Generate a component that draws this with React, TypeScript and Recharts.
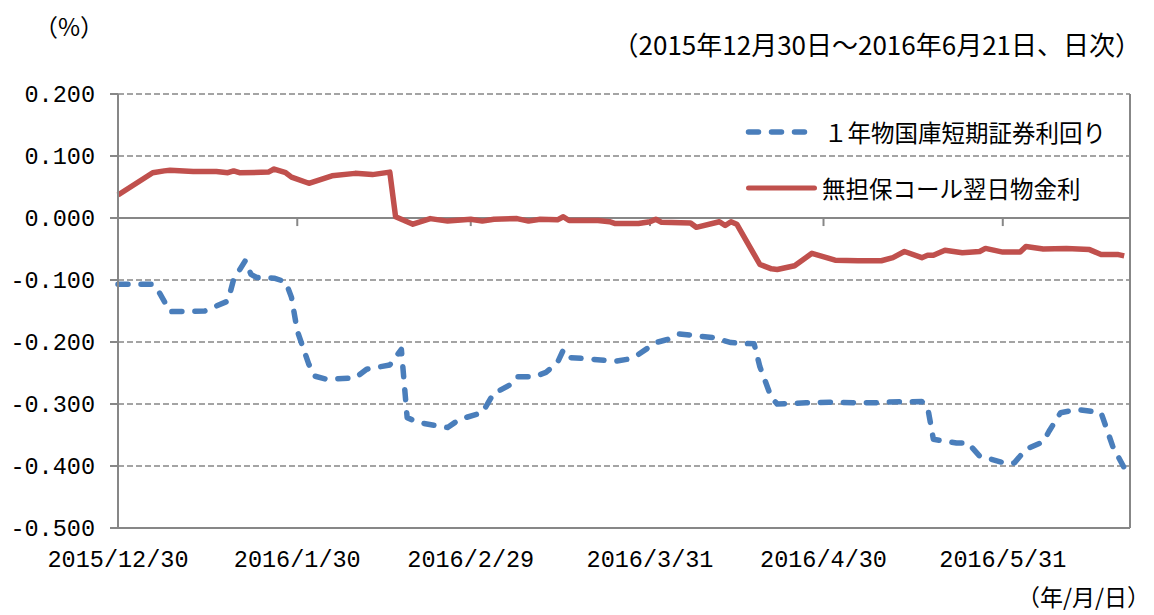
import React from 'react';
import {
  LineChart,
  Line,
  XAxis,
  YAxis,
  CartesianGrid,
  ReferenceLine,
  Legend,
} from 'recharts';

// days counted from 2015/12/30
const tickDays = [0, 31, 61, 92, 122, 153];
const tickLabels = ['2015/12/30', '2016/1/30', '2016/2/29', '2016/3/31', '2016/4/30', '2016/5/31'];
const yTicks = [0.2, 0.1, 0, -0.1, -0.2, -0.3, -0.4, -0.5];
const xMax = 175;

const billName = '１年物国庫短期証券利回り';
const callName = '無担保コール翌日物金利';

const billDays = [
  0, 6, 7, 9, 15, 19, 20, 22, 23, 24, 27, 29, 30, 31, 33, 34, 36, 41, 43, 47, 49, 50, 52, 57, 59,
  63, 65, 66, 68, 69, 72, 74, 76, 77, 78, 81, 86, 88, 90, 93, 95, 97, 99, 103, 106, 110, 111, 113,
  114, 119, 123, 128, 131, 132, 139, 140, 141, 145, 147, 149, 151, 154, 155, 157, 160, 161, 163,
  166, 170, 172, 174,
];
const billYield = [
  -0.107, -0.107, -0.118, -0.151, -0.15, -0.134, -0.099, -0.069, -0.091, -0.096, -0.097, -0.103,
  -0.128, -0.182, -0.236, -0.255, -0.26, -0.258, -0.244, -0.237, -0.212, -0.322, -0.33, -0.338,
  -0.325, -0.314, -0.282, -0.278, -0.268, -0.256, -0.256, -0.249, -0.233, -0.213, -0.225, -0.227,
  -0.231, -0.228, -0.22, -0.201, -0.196, -0.187, -0.189, -0.193, -0.201, -0.203, -0.24, -0.29, -0.3,
  -0.298, -0.297, -0.298, -0.298, -0.297, -0.296, -0.305, -0.357, -0.363, -0.363, -0.384, -0.389,
  -0.397, -0.395, -0.373, -0.361, -0.344, -0.314, -0.309, -0.314, -0.368, -0.403,
];

const callDays = [
  0, 6, 8, 9, 13, 17, 19, 20, 21, 26, 27, 29, 30, 33, 35, 37, 41, 44, 47, 48, 51, 54, 57, 61, 63,
  65, 69, 71, 73, 76, 77, 78, 83, 85, 86, 90, 92, 93, 94, 99, 100, 104, 105, 106, 107, 111, 113,
  114, 117, 120, 124, 128, 132, 134, 136, 139, 140, 141, 143, 146, 149, 150, 153, 156, 157, 160,
  164, 168, 170, 173, 174,
];
const callRate = [
  0.037, 0.073, 0.076, 0.077, 0.075, 0.075, 0.073, 0.076, 0.073, 0.074, 0.079, 0.073, 0.066, 0.056,
  0.062, 0.068, 0.072, 0.07, 0.074, 0.002, -0.01, -0.001, -0.005, -0.002, -0.005, -0.002, -0.001,
  -0.005, -0.002, -0.003, 0.002, -0.004, -0.004, -0.006, -0.009, -0.009, -0.006, -0.002, -0.007,
  -0.008, -0.015, -0.006, -0.012, -0.006, -0.01, -0.075, -0.082, -0.083, -0.077, -0.057, -0.068,
  -0.069, -0.069, -0.064, -0.054, -0.064, -0.06, -0.06, -0.052, -0.056, -0.054, -0.049, -0.055,
  -0.055, -0.046, -0.05, -0.049, -0.051, -0.059, -0.059, -0.061,
];

const billData = billDays.map((d, i) => ({ day: d, bill: billYield[i] }));
const callData = callDays.map((d, i) => ({ day: d, call: callRate[i] }));

const BLUE = '#4A7EBB';
const RED = '#C0504D';
const GRAY = '#878787';
const jp = '"Noto Sans CJK JP", sans-serif';
const mono = '"Liberation Mono", "DejaVu Sans Mono", monospace';

const LegendBox = () => (
  <div style={{ position: 'relative', width: 400, height: 100, fontFamily: jp, fontSize: 23.5, color: '#000' }}>
    <div style={{ position: 'absolute', left: 0, top: 0, height: 40, display: 'flex', alignItems: 'center' }}>
      <svg width={84} height={40}>
        <line x1={8.5} y1={20} x2={64.5} y2={20} stroke={BLUE} strokeWidth={5.5}
          strokeDasharray="10 13" strokeLinecap="round" />
      </svg>
      <span style={{ whiteSpace: 'nowrap' }}>{billName}</span>
    </div>
    <div style={{ position: 'absolute', left: 0, top: 56, height: 40, display: 'flex', alignItems: 'center' }}>
      <svg width={82} height={40}>
        <line x1={8.5} y1={20} x2={74.5} y2={20} stroke={RED} strokeWidth={5} strokeLinecap="round" />
      </svg>
      <span style={{ whiteSpace: 'nowrap' }}>{callName}</span>
    </div>
  </div>
);

export default function App() {
  return (
    <div style={{ width: 1154, height: 615, background: '#fff' }}>
      <style>{`body{margin:0}`}</style>
      <LineChart
        width={1154}
        height={615}
        margin={{ top: 94, right: 24, bottom: 57, left: 0 }}
      >
        <CartesianGrid vertical={false} stroke={GRAY} strokeDasharray="6 3" strokeWidth={1.5} />
        <XAxis
          type="number"
          dataKey="day"
          domain={[0, xMax]}
          ticks={tickDays}
          height={30}
          allowDuplicatedCategory={false}
          tickFormatter={(v: number) => tickLabels[tickDays.indexOf(v)] ?? ''}
          axisLine={{ stroke: GRAY, strokeWidth: 2 }}
          tickLine={false}
          tickSize={0}
          tickMargin={22}
          tick={{ fill: '#000', fontSize: 23.5, fontFamily: mono }}
          interval={0}
        />
        <YAxis
          type="number"
          domain={[-0.5, 0.2]}
          ticks={yTicks}
          width={118}
          tickFormatter={(v: number) => v.toFixed(3)}
          axisLine={{ stroke: GRAY, strokeWidth: 2 }}
          tickLine={{ stroke: GRAY, strokeWidth: 2 }}
          tickSize={8}
          tickMargin={15}
          tick={{ fill: '#000', fontSize: 23.5, fontFamily: mono }}
          interval={0}
        />
        <ReferenceLine y={0} stroke={GRAY} strokeWidth={2} />
        <ReferenceLine x={xMax} stroke={GRAY} strokeWidth={2} />
        {tickDays.slice(1).map((d) => (
          <ReferenceLine
            key={d}
            segment={[{ x: d, y: 0 }, { x: d, y: -0.013 }]}
            stroke={GRAY}
            strokeWidth={2}
          />
        ))}
        <Line
          data={billData}
          type="linear"
          dataKey="bill"
          name={billName}
          stroke={BLUE}
          strokeWidth={5.5}
          strokeDasharray="10 13"
          strokeLinecap="round"
          strokeLinejoin="round"
          dot={false}
          activeDot={false}
          isAnimationActive={false}
        />
        <Line
          data={callData}
          type="linear"
          dataKey="call"
          name={callName}
          stroke={RED}
          strokeWidth={5.5}
          strokeLinejoin="round"
          dot={false}
          activeDot={false}
          isAnimationActive={false}
        />
        <Legend
          layout="horizontal"
          verticalAlign="middle"
          content={<LegendBox />}
          wrapperStyle={{ left: 740, top: 112, width: 400 }}
        />
        <text x={34} y={36} fontSize={24} fontFamily={jp} fill="#000">（%）</text>
        <text x={1141} y={55} fontSize={26} fontFamily={jp} fill="#000" textAnchor="end">
          （2015年12月30日～2016年6月21日、日次）
        </text>
        <text x={1150} y={606} fontSize={23} fontFamily={jp} fill="#000" textAnchor="end">（年/月/日）</text>
      </LineChart>
    </div>
  );
}
